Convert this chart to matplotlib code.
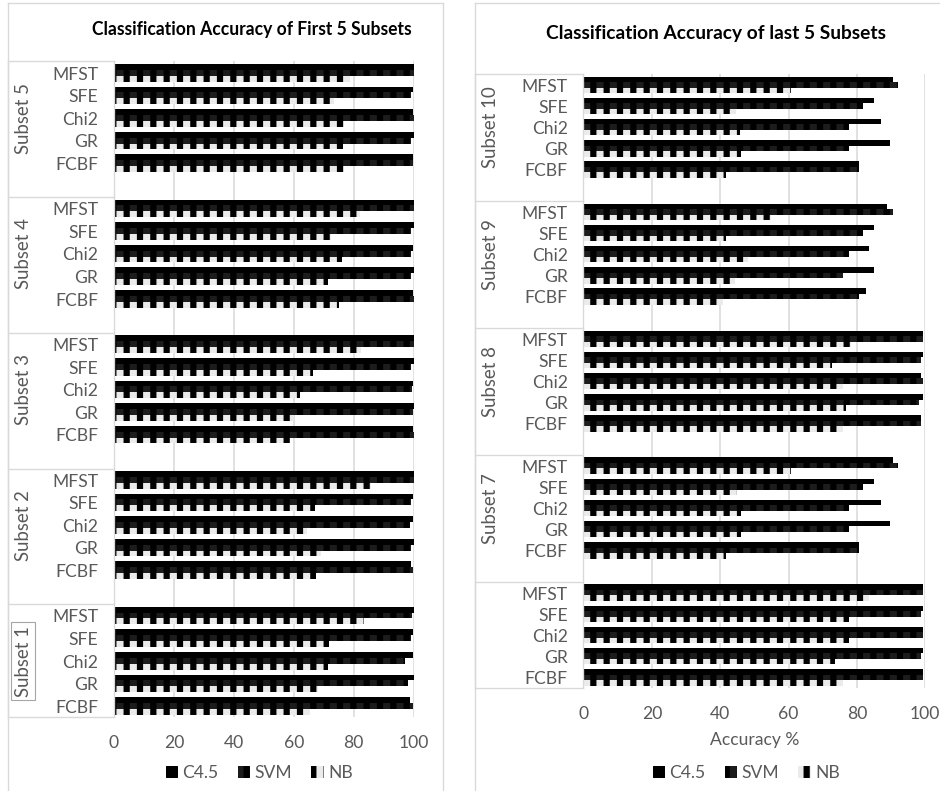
import matplotlib
matplotlib.use("Agg")
import matplotlib.pyplot as plt
from matplotlib import transforms
from matplotlib.lines import Line2D

plt.rcParams['font.family'] = ['Lato', 'DejaVu Sans']
plt.rcParams['hatch.linewidth'] = 5.6

# ---------------- data ----------------
methods = ["MFST", "SFE", "Chi2", "GR", "FCBF"]
classifiers = ["C4.5", "SVM", "NB"]

subsets_first = ["Subset 5", "Subset 4", "Subset 3", "Subset 2", "Subset 1"]
subsets_last = ["Subset 10", "Subset 9", "Subset 8", "Subset 7", ""]

# values listed top-to-bottom: for each subset, MFST, SFE, Chi2, GR, FCBF
c45_first = [100, 99.7, 99.7, 100, 99.7,
             100, 100, 99.7, 100, 99.7,
             100, 100, 99.7, 100, 99.7,
             100, 99.7, 99.7, 100, 99.2,
             100, 99.7, 99.7, 100, 98.8]
svm_first = [100, 99.2, 100, 99.2, 99.7,
             100, 99.2, 99.2, 99.2, 100,
             100, 99.2, 99.5, 99.7, 100,
             100, 99.2, 98.7, 99.2, 99.7,
             99.6, 99.2, 97.0, 98.0, 99.7]
nb_first = [78.7, 73.4, 76.7, 76.5, 76.7,
            82.0, 72.3, 76.0, 71.3, 75.0,
            82.5, 66.4, 62.2, 60.0, 58.9,
            85.8, 67.2, 64.4, 69.1, 67.5,
            83.6, 71.7, 71.3, 68.0, 65.3]

c45_last = [90.6, 85.0, 86.9, 89.8, 80.7,
            88.8, 85.0, 83.5, 85.0, 82.6,
            99.2, 99.2, 98.7, 99.2, 98.7,
            90.6, 85.0, 86.9, 89.8, 80.7,
            99.2, 99.2, 99.2, 99.2, 99.2]
svm_last = [92.1, 81.7, 77.8, 77.8, 80.7,
            90.6, 81.7, 77.8, 75.9, 80.7,
            99.2, 98.7, 99.2, 98.2, 98.7,
            92.1, 81.7, 77.8, 77.8, 80.7,
            99.2, 98.7, 99.2, 98.7, 99.2]
nb_last = [60.6, 44.6, 45.8, 46.0, 41.6,
           54.8, 41.6, 48.0, 44.4, 40.8,
           78.4, 72.6, 75.9, 76.8, 75.9,
           60.6, 45.0, 46.0, 46.0, 41.6,
           83.5, 77.8, 77.8, 73.6, 75.9]

x_ticks = [0, 20, 40, 60, 80, 100]

# ---------------- figure ----------------
W, H, DPI = 940, 791, 80
fig = plt.figure(figsize=((W + 0.3) / DPI, (H + 0.3) / DPI), dpi=DPI)

def fx(x):
    return x / W

def fy(y):
    return 1 - y / H

GRID = '#d9d9d9'
TXT = '#595959'
FS = 15.8

# panel borders
for xs, ys in [([8, 8], [3, H + 5]), ([8, 443], [3, 3]), ([443, 443], [3, H + 5]),
               ([475, 475], [3, H + 5]), ([475, W + 5], [3, 3])]:
    fig.add_artist(Line2D([fx(v) for v in xs], [fy(v) for v in ys],
                          transform=fig.transFigure, color=GRID, lw=1.2))

styles = [dict(color='black', edgecolor='black', linewidth=0),
          dict(color='#1c1c1c', edgecolor='black', hatch='|', linewidth=0),
          dict(color='#ebebeb', edgecolor='black', hatch='|', linewidth=0)]


def draw_panel(rect_px, subsets, series, box_left_px, title, title_pos, title_fs,
               legend_x, xlabel=None, boxed_label=None):
    x0, y0, x1, y1 = rect_px
    ax = fig.add_axes([fx(x0), fy(y1), (x1 - x0) / W, (y1 - y0) / H])
    n_sub = len(subsets)
    n_cat = n_sub * 6 - 1
    h = 0.26
    ypos = []
    labels = []
    for s in range(n_sub):
        for m in range(len(methods)):
            ypos.append(6 * s + m)
            labels.append(methods[m])
    handles = []
    for k, vals in enumerate(series):
        offs = (k - 1) * h
        b = ax.barh([p + offs for p in ypos], vals, height=h, label=classifiers[k],
                    **styles[k])
        handles.append(b)
    ax.set_ylim(n_cat - 0.5, -0.5)
    ax.set_xlim(0, 100)
    ax.set_xticks(x_ticks)
    ax.set_yticks(ypos)
    ax.set_yticklabels(labels)
    ax.tick_params(axis='y', length=0, pad=14, labelsize=FS, labelcolor=TXT)
    ax.tick_params(axis='x', length=0, pad=16, labelsize=FS, labelcolor=TXT)
    for sp in ['top', 'right', 'bottom']:
        ax.spines[sp].set_visible(False)
    ax.spines['left'].set_color(GRID)
    ax.spines['left'].set_linewidth(1.2)
    ax.xaxis.grid(True, color=GRID, lw=1.4)
    ax.set_axisbelow(True)
    if xlabel:
        ax.set_xlabel(xlabel, fontsize=FS, color=TXT, labelpad=9)

    # multi-level category boxes
    tr = transforms.blended_transform_factory(fig.transFigure, ax.transData)
    bounds = [-0.5] + [6 * s + 5.5 for s in range(n_sub - 1)] + [n_cat - 0.5]
    for yb in bounds:
        ax.add_line(Line2D([fx(box_left_px), fx(x0)], [yb, yb], transform=tr,
                           color=GRID, lw=1.2, clip_on=False))
    ax.add_line(Line2D([fx(box_left_px), fx(box_left_px)], [bounds[0], bounds[-1]],
                       transform=tr, color=GRID, lw=1.2, clip_on=False))
    for s, name in enumerate(subsets):
        if not name:
            continue
        kw = {}
        if name == boxed_label:
            kw['bbox'] = dict(boxstyle='square,pad=0.2', fc='none', ec='#a6a6a6', lw=1)
        ax.text(fx(box_left_px + 15), 6 * s + 2, name, transform=tr, rotation=90,
                ha='center', va='center', fontsize=16.8, color=TXT, **kw)

    fig.text(fx(title_pos[0]), fy(title_pos[1]), title, ha='center', va='center',
             fontsize=title_fs, fontweight='bold', color='black')
    fig.legend(handles=handles, loc='center', bbox_to_anchor=(fx(legend_x), fy(773)),
               ncol=3, frameon=False, fontsize=FS, labelcolor=TXT,
               handlelength=0.7, handleheight=0.7, handletextpad=0.25,
               columnspacing=1.1)
    return ax


draw_panel((114, 61.7, 413.5, 717.3), subsets_first, [c45_first, svm_first, nb_first],
           8, "Classification Accuracy of First 5 Subsets", (252, 29), 15.8, 259,
           boxed_label="Subset 1")
draw_panel((583.3, 74.5, 925, 688), subsets_last, [c45_last, svm_last, nb_last],
           475, "Classification Accuracy of last 5 Subsets", (716, 33), 17.2, 746,
           xlabel="Accuracy %")

fig.savefig("out.png", dpi=DPI)
